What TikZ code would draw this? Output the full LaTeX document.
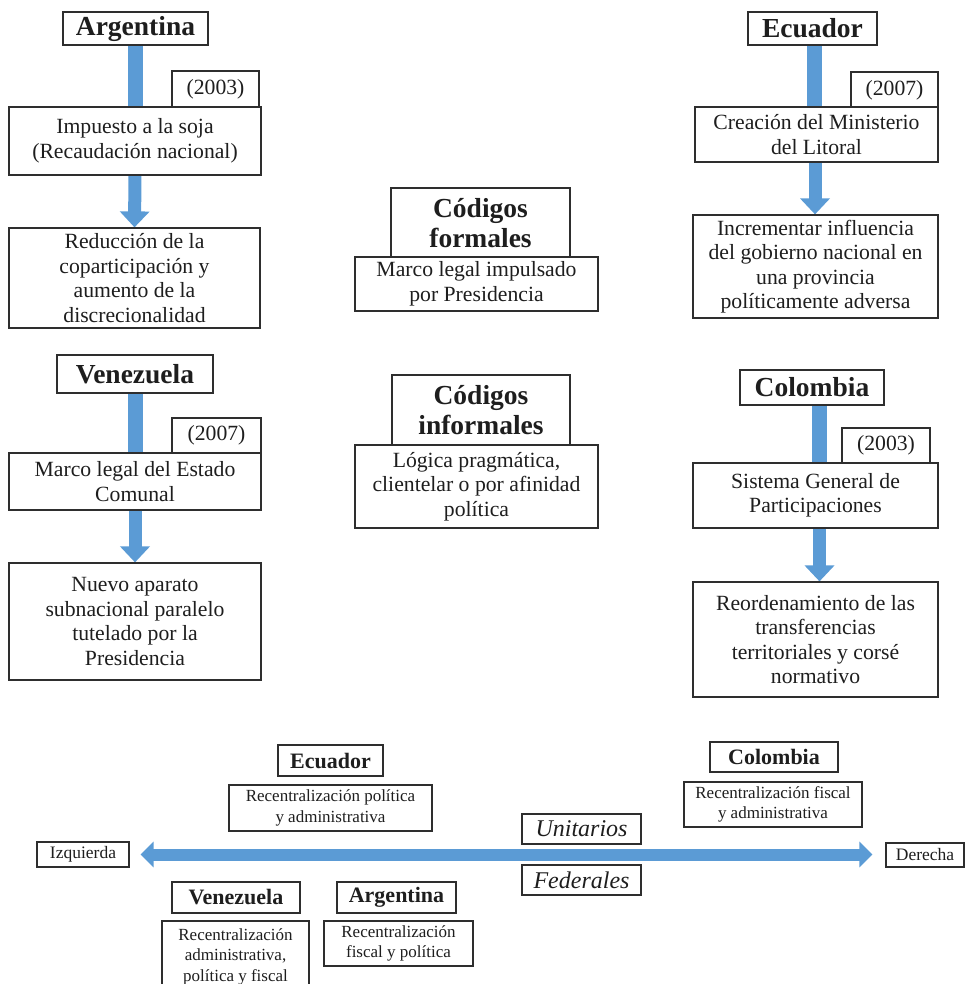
\documentclass[tikz,border=0pt]{standalone}
\usepackage{fontspec}
\setmainfont{Liberation Serif}
\usetikzlibrary{arrows.meta,backgrounds}

\definecolor{flowblue}{HTML}{5B9BD5}
\definecolor{boxline}{HTML}{2E2E2E}
\definecolor{ink}{HTML}{1E1E1E}

% font sizes
\newcommand\bodyfont{\fontsize{21.7}{24.5}\selectfont}
\newcommand\headfont{\fontsize{27.5}{30}\selectfont\bfseries}
\newcommand\smallbody{\fontsize{17}{20.5}\selectfont}
\newcommand\smallhead{\fontsize{22}{24}\selectfont\bfseries}
\newcommand\axisfont{\fontsize{24}{26}\selectfont\itshape}
\newcommand\sidefont{\fontsize{17.5}{20}\selectfont}

% box given by its corners (x1,y1) and (x2,y2)
\newcommand\bx[7][]{%
  \node[tbox,#1,minimum width={(#5-#3)*1pt},minimum height={(#6-#4)*1pt}]
    (#2) at ({(#3+#5)/2},{(#4+#6)/2}) {#7};}

\tikzset{
  tbox/.style={draw=boxline, line width=1.2pt, fill=white, text=ink,
               align=center, inner sep=0pt, font=\bodyfont},
  hbox/.style={font=\headfont},
  sbox/.style={font=\smallbody},
  shbox/.style={font=\smallhead},
  shaft/.style={draw=flowblue, line width=15pt},
  downarrow/.style={draw=flowblue, line width=13pt,
                    -{Triangle[width=29pt,length=16pt]}},
  axisarrow/.style={draw=flowblue, line width=12pt,
                    {Triangle[width=25pt,length=13pt]}-{Triangle[width=25pt,length=13pt]}},
}

\begin{document}
\begin{tikzpicture}[x=1pt,y=-1pt]
\useasboundingbox (0,0) rectangle (965,984);

% ---- Argentina
\bx[hbox]{hArg}{63}{12}{208}{45}{Argentina}
\bx{yArg}{172}{71}{259}{107}{(2003)}
\bx{mArg}{9}{107}{261}{175}{Impuesto a la soja\\(Recaudación nacional)}
\bx{rArg}{9}{228}{260}{328}{Reducción de la\\coparticipación y\\aumento de la\\discrecionalidad}

% ---- Ecuador
\bx[hbox]{hEcu}{748}{12}{877}{45}{Ecuador}
\bx{yEcu}{851}{72}{938}{108}{(2007)}
\bx{mEcu}{695}{107}{938}{162}{Creación del Ministerio\\del Litoral}
\bx{rEcu}{693}{215}{938}{318}{Incrementar influencia\\del gobierno nacional en\\una provincia\\políticamente adversa}

% ---- Códigos
\bx[hbox]{hFor}{391}{188}{570}{258}{Códigos\\formales}
\bx{bFor}{355}{257}{598}{311}{Marco legal impulsado\\por Presidencia}
\bx[hbox]{hInf}{392}{375}{570}{445}{Códigos\\informales}
\bx{bInf}{355}{445}{598}{528}{Lógica pragmática,\\clientelar o por afinidad\\política}

% ---- Venezuela
\bx[hbox]{hVen}{57}{355}{213}{393}{Venezuela}
\bx{yVen}{172}{418}{261}{453}{(2007)}
\bx{mVen}{9}{453}{261}{510}{Marco legal del Estado\\Comunal}
\bx{rVen}{9}{563}{261}{680}{Nuevo aparato\\subnacional paralelo\\tutelado por la\\Presidencia}

% ---- Colombia
\bx[hbox]{hCol}{740}{370}{884}{405}{Colombia}
\bx{yCol}{842}{428}{930}{463}{(2003)}
\bx{mCol}{693}{463}{938}{528}{Sistema General de\\Participaciones}
\bx{rCol}{693}{582}{938}{697}{Reordenamiento de las\\transferencias\\territoriales y corsé\\normativo}

% ---- left/right axis
\bx[shbox]{bhEcu}{278}{745}{383}{776}{Ecuador}
\bx[sbox]{bbEcu}{229}{785}{432}{831}{Recentralización política\\y administrativa}
\bx[shbox]{bhCol}{710}{742}{838}{772}{Colombia}
\bx[sbox]{bbCol}{684}{782}{862}{827}{Recentralización fiscal\\y administrativa}
\bx[font=\axisfont]{uni}{522}{814}{641}{844}{Unitarios}
\bx[font=\axisfont]{fed}{522}{865}{641}{895}{Federales}
\bx[font=\sidefont]{izq}{37}{842}{129}{867}{Izquierda}
\bx[font=\sidefont]{der}{886}{843}{964}{867}{Derecha}
\bx[shbox]{bhVen}{172}{882}{300}{913}{Venezuela}
\bx[sbox]{bbVen}{162}{921}{309}{992}{Recentralización\\administrativa,\\política y fiscal}
\bx[shbox]{bhArg}{337}{882}{456}{913}{Argentina}
\bx[sbox]{bbArg}{324}{921}{473}{966}{Recentralización\\fiscal y política}

% ---- blue connectors, kept behind the boxes
\begin{pgfonlayer}{background}
  \draw[shaft] (hArg.south) -- (hArg.south |- mArg.north);
  \draw[downarrow] (mArg.south) -- (rArg.north);
  \draw[shaft] ([xshift=1.5pt]hEcu.south) -- ([xshift=1.5pt]hEcu.south |- mEcu.north);
  \draw[downarrow] ([xshift=-1.5pt]mEcu.south) -- ([xshift=-1.5pt]mEcu.south |- rEcu.north);
  \draw[shaft] (hVen.south) -- (hVen.south |- mVen.north);
  \draw[downarrow] (mVen.south) -- (rVen.north);
  \draw[shaft] ([xshift=7pt]hCol.south) -- ([xshift=7pt]hCol.south |- mCol.north);
  \draw[downarrow] ([xshift=4pt]mCol.south) -- ([xshift=4pt]mCol.south |- rCol.north);
  \draw[axisarrow, shorten <=11pt, shorten >=13pt] (izq.east) -- (izq.east -| der.west);
\end{pgfonlayer}
\end{tikzpicture}
\end{document}
